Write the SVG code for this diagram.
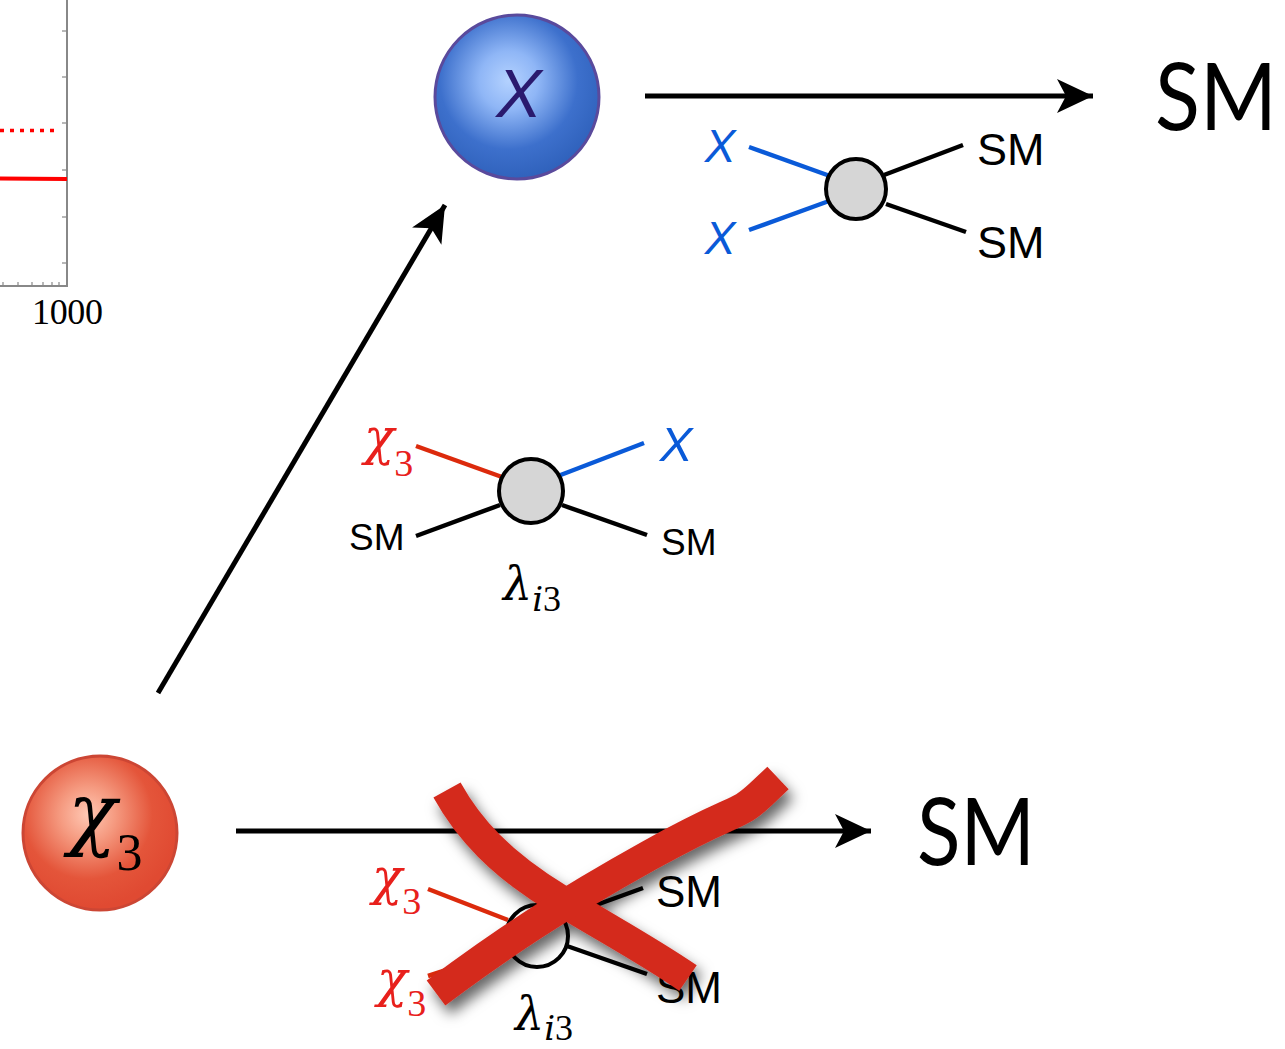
<svg xmlns="http://www.w3.org/2000/svg" width="1285" height="1049" viewBox="0 0 1285 1049">
<defs>
<radialGradient id="gBlue" cx="0.45" cy="0.4" r="0.6">
<stop offset="0" stop-color="#b4d2ff"/>
<stop offset="0.3" stop-color="#8fb6f6"/>
<stop offset="0.7" stop-color="#3d70cc"/>
<stop offset="1" stop-color="#3062bc"/>
</radialGradient>
<radialGradient id="gRed" cx="0.42" cy="0.38" r="0.6">
<stop offset="0" stop-color="#ffc8b4"/>
<stop offset="0.3" stop-color="#f59a80"/>
<stop offset="0.7" stop-color="#e4553a"/>
<stop offset="1" stop-color="#e04a32"/>
</radialGradient>
<marker id="ah" viewBox="-40 -20 45 40" refX="0" refY="0" markerWidth="45" markerHeight="40" markerUnits="userSpaceOnUse" orient="auto">
<path d="M0,0 L-36,-17 L-27,0 L-36,17 Z" fill="#000"/>
</marker>
<filter id="shadow" x="-20%" y="-20%" width="150%" height="150%">
<feDropShadow dx="5" dy="9" stdDeviation="7" flood-color="#000" flood-opacity="0.6"/>
</filter>
<style>
.arrow{stroke:#000;stroke-width:5;fill:none;marker-end:url(#ah)}
.fl{stroke-width:4.5;fill:none}
.blk{stroke:#000}
.blu{stroke:#0a5ad8}
.red{stroke:#dc2a0c}
.vtx{fill:#d6d6d6;stroke:#000;stroke-width:4}
.sm{font-family:"Liberation Sans",Arial,sans-serif;fill:#000}
.big{font-family:"Lato","Open Sans",sans-serif;fill:#000;font-size:94px}
.bx{font-family:"Liberation Sans",Arial,sans-serif;font-style:italic;fill:#0a5ad8}
.math{font-family:"DejaVu Serif","Liberation Serif",serif;font-style:italic}
.up{font-family:"Liberation Serif","Times New Roman",serif;font-style:normal}
</style>
</defs>

<g id="plot">
<line x1="67" y1="0" x2="67" y2="287" stroke="#888" stroke-width="2"/>
<line x1="0" y1="286" x2="68" y2="286" stroke="#888" stroke-width="2"/>
<g stroke="#888" stroke-width="1.2">
<line x1="62" y1="31" x2="67" y2="31"/>
<line x1="62" y1="77" x2="67" y2="77"/>
<line x1="62" y1="123" x2="67" y2="123"/>
<line x1="62" y1="170" x2="67" y2="170"/>
<line x1="62" y1="217" x2="67" y2="217"/>
<line x1="62" y1="263" x2="67" y2="263"/>
<line x1="3" y1="282" x2="3" y2="286"/>
<line x1="18" y1="282" x2="18" y2="286"/>
<line x1="32" y1="282" x2="32" y2="286"/>
<line x1="43" y1="282" x2="43" y2="286"/>
<line x1="52" y1="282" x2="52" y2="286"/>
<line x1="59" y1="282" x2="59" y2="286"/>
</g>
<line x1="0" y1="130.5" x2="58" y2="130.5" stroke="#ff0000" stroke-width="3.5" stroke-dasharray="4,6"/>
<line x1="0" y1="178.5" x2="67" y2="179" stroke="#ff0000" stroke-width="4"/>
<text x="32" y="324" font-family="Liberation Serif,Times New Roman,serif" font-size="36" fill="#000" textLength="71">1000</text>
</g>

<g id="connectors">
<line class="arrow" x1="645" y1="96" x2="1093" y2="96"/>
<line class="arrow" x1="158" y1="693" x2="445" y2="205"/>
<line class="arrow" x1="236" y1="831" x2="871" y2="831"/>
</g>

<g id="node-X">
<circle cx="517" cy="97" r="82" fill="url(#gBlue)" stroke="#5a4a9c" stroke-width="3"/>
<text x="519" y="117" text-anchor="middle" font-family="Liberation Sans,Arial,sans-serif" font-style="italic" font-size="68" fill="#2a1a6e">X</text>
</g>

<g id="node-chi3">
<circle cx="100" cy="833" r="77" fill="url(#gRed)" stroke="#cc4634" stroke-width="3"/>
<text class="math" x="68" y="840" font-size="80" fill="#000">χ<tspan class="up" font-size="52" dy="30">3</tspan></text>
</g>

<g id="label-SM-top">
<text class="big" x="1155" y="130" textLength="122" lengthAdjust="spacingAndGlyphs">SM</text>
</g>
<g id="label-SM-bottom">
<text class="big" x="917" y="865" textLength="118" lengthAdjust="spacingAndGlyphs">SM</text>
</g>

<g id="diagram-annihilation">
<line class="fl blu" x1="749" y1="147" x2="830" y2="176"/>
<line class="fl blu" x1="749" y1="230" x2="829" y2="201"/>
<line class="fl blk" x1="884" y1="175" x2="963" y2="145"/>
<line class="fl blk" x1="886" y1="204" x2="966" y2="232"/>
<circle class="vtx" cx="856" cy="189" r="30"/>
<text class="bx" x="720" y="162" text-anchor="middle" font-size="46">X</text>
<text class="bx" x="720" y="254" text-anchor="middle" font-size="46">X</text>
<text class="sm" x="977" y="165" font-size="45">SM</text>
<text class="sm" x="977" y="258" font-size="45">SM</text>
</g>

<g id="diagram-conversion">
<line class="fl red" x1="416" y1="446" x2="502" y2="477"/>
<line class="fl blu" x1="558" y1="476" x2="644" y2="443"/>
<line class="fl blk" x1="416" y1="536" x2="500" y2="505"/>
<line class="fl blk" x1="562" y1="505" x2="647" y2="535"/>
<circle class="vtx" cx="531" cy="491" r="32"/>
<text class="math" x="364" y="454" font-size="50" fill="#e8201c">χ<tspan class="up" font-size="38" dy="22">3</tspan></text>
<text class="bx" x="676" y="461" text-anchor="middle" font-size="49">X</text>
<text class="sm" x="349" y="550" font-size="37">SM</text>
<text class="sm" x="661" y="555" font-size="37">SM</text>
<text class="math" x="503" y="600" font-size="46" fill="#000">λ<tspan font-size="34" dy="11">i</tspan><tspan class="up" font-size="36">3</tspan></text>
</g>

<g id="diagram-forbidden">
<line class="fl red" x1="428" y1="889" x2="508" y2="920"/>
<line class="fl red" x1="428" y1="976" x2="508" y2="950"/>
<line class="fl blk" x1="563" y1="917" x2="643" y2="888"/>
<line class="fl blk" x1="567" y1="946" x2="647" y2="974"/>
<circle cx="537" cy="936" r="31" fill="#fff" stroke="#000" stroke-width="4"/>
<text class="math" x="372" y="894" font-size="50" fill="#e8201c">χ<tspan class="up" font-size="38" dy="20">3</tspan></text>
<text class="math" x="377" y="996" font-size="50" fill="#e8201c">χ<tspan class="up" font-size="38" dy="20">3</tspan></text>
<text class="sm" x="656" y="907" font-size="44">SM</text>
<text class="sm" x="656" y="1003" font-size="44">SM</text>
<text class="math" x="515" y="1030" font-size="46" fill="#000">λ<tspan font-size="34" dy="10">i</tspan><tspan class="up" font-size="36">3</tspan></text>
</g>

<g id="cross" filter="url(#shadow)" stroke="#d42a1e" stroke-width="31" fill="none" stroke-linecap="butt">
<path d="M447,790 C468,828 500,864 560,900 S650,952 688,978"/>
<path d="M436,993 C500,945 560,905 650,855 S735,818 760,795 L778,778"/>
</g>
</svg>
